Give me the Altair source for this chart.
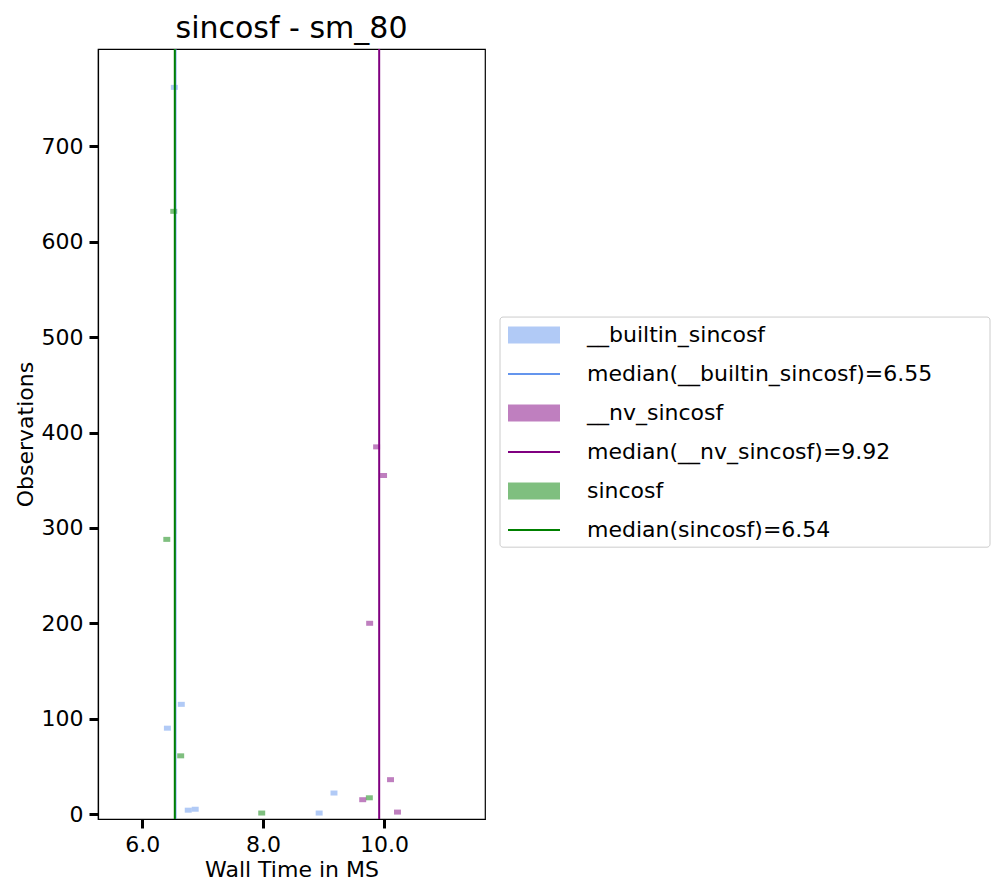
import altair as alt
import pandas as pd

BW = 0.115
blue_left = [6.36, 6.475, 6.59, 6.705, 6.82, 8.87, 9.115]
blue_count = [90, 762, 115, 4, 5, 1, 22]
purple_left = [9.59, 9.705, 9.82, 9.935, 10.05, 10.165]
purple_count = [15, 200, 385, 355, 36, 2]
green_left = [6.35, 6.465, 6.58, 7.92, 9.70]
green_count = [288, 632, 61, 1, 17]

series = ["__builtin_sincosf", "__nv_sincosf", "sincosf"]
colors = ["cornflowerblue", "purple", "green"]
medians = [6.55, 9.92, 6.54]

rows = []
for name, lefts, counts in zip(series, [blue_left, purple_left, green_left],
                                [blue_count, purple_count, green_count]):
    for l, c in zip(lefts, counts):
        rows.append({"series": name, "x0": l, "x1": l + BW, "count": c})
hist = pd.DataFrame(rows)
med = pd.DataFrame({"series": series, "median": medians})

cscale = alt.Scale(domain=series, range=colors)
xs = alt.Scale(domain=[5.27, 11.67], nice=False, zero=False)
ys = alt.Scale(domain=[0, 797], nice=False)

bars = alt.Chart(hist).mark_bar(opacity=0.5, binSpacing=0).encode(
    x=alt.X("x0:Q", scale=xs, title="Wall Time in MS",
            axis=alt.Axis(values=[6, 8, 10], grid=False)),
    x2="x1:Q",
    y=alt.Y("count:Q", scale=ys, title="Observations",
            axis=alt.Axis(values=[0, 100, 200, 300, 400, 500, 600, 700], grid=False)),
    color=alt.Color("series:N", scale=cscale, legend=None),
)
rules = alt.Chart(med).mark_rule(strokeWidth=2).encode(
    x=alt.X("median:Q", scale=xs),
    color=alt.Color("series:N", scale=cscale, legend=None),
)
plot = alt.layer(bars, rules).properties(
    width=387, height=770,
    title=alt.TitleParams("sincosf - sm_80", fontSize=30, fontWeight="normal",
                          font="DejaVu Sans", anchor="middle", offset=4),
)

# manual legend panel
labels = []
for i, (s, m, c) in enumerate(zip(series, medians, colors)):
    labels.append({"row": 2 * i, "label": s, "kind": "patch", "color": c})
    labels.append({"row": 2 * i + 1, "label": f"median({s})={m}", "kind": "line", "color": c})
leg = pd.DataFrame(labels)
ly = alt.Scale(domain=[-286 / 39, (770 - 286) / 39], reverse=True, nice=False, zero=False)
lbase = alt.Chart(leg)
border = alt.Chart(pd.DataFrame({"a": [-0.46], "b": [5.44]})).mark_rect(
    fill="white", stroke="#cccccc", strokeWidth=1, cornerRadius=3
).encode(x=alt.value(0), x2=alt.value(490),
         y=alt.Y("a:Q", scale=ly, axis=None), y2="b:Q")
patches = lbase.transform_filter("datum.kind == 'patch'").transform_calculate(
    a="datum.row - 0.22", b="datum.row + 0.22"
).mark_rect(opacity=0.5).encode(
    x=alt.value(8), x2=alt.value(60),
    y=alt.Y("a:Q", scale=ly, axis=None), y2="b:Q",
    color=alt.Color("color:N", scale=None),
)
lines = lbase.transform_filter("datum.kind == 'line'").mark_rule(strokeWidth=2).encode(
    x=alt.value(8), x2=alt.value(60),
    y=alt.Y("row:Q", scale=ly, axis=None),
    color=alt.Color("color:N", scale=None),
)
texts = lbase.mark_text(align="left", baseline="middle", fontSize=22,
                        font="DejaVu Sans", color="black").encode(
    x=alt.value(87), y=alt.Y("row:Q", scale=ly, axis=None), text="label:N",
)
legend = alt.layer(border, patches, lines, texts).properties(
    width=492, height=770, view=alt.ViewBackground(stroke=None)
)

chart = alt.hconcat(plot, legend, spacing=13).configure_axis(
    labelFont="DejaVu Sans", titleFont="DejaVu Sans", labelFontSize=22,
    titleFontSize=22, titleFontWeight="normal", labelColor="black", titleColor="black",
    domainColor="black", tickColor="black", tickWidth=3, tickSize=9,
    domainWidth=1.2, labelPadding=6,
).configure_view(stroke="black", strokeWidth=1.2)

chart.save("out.html", embed_options={"renderer": "svg", "actions": False})
